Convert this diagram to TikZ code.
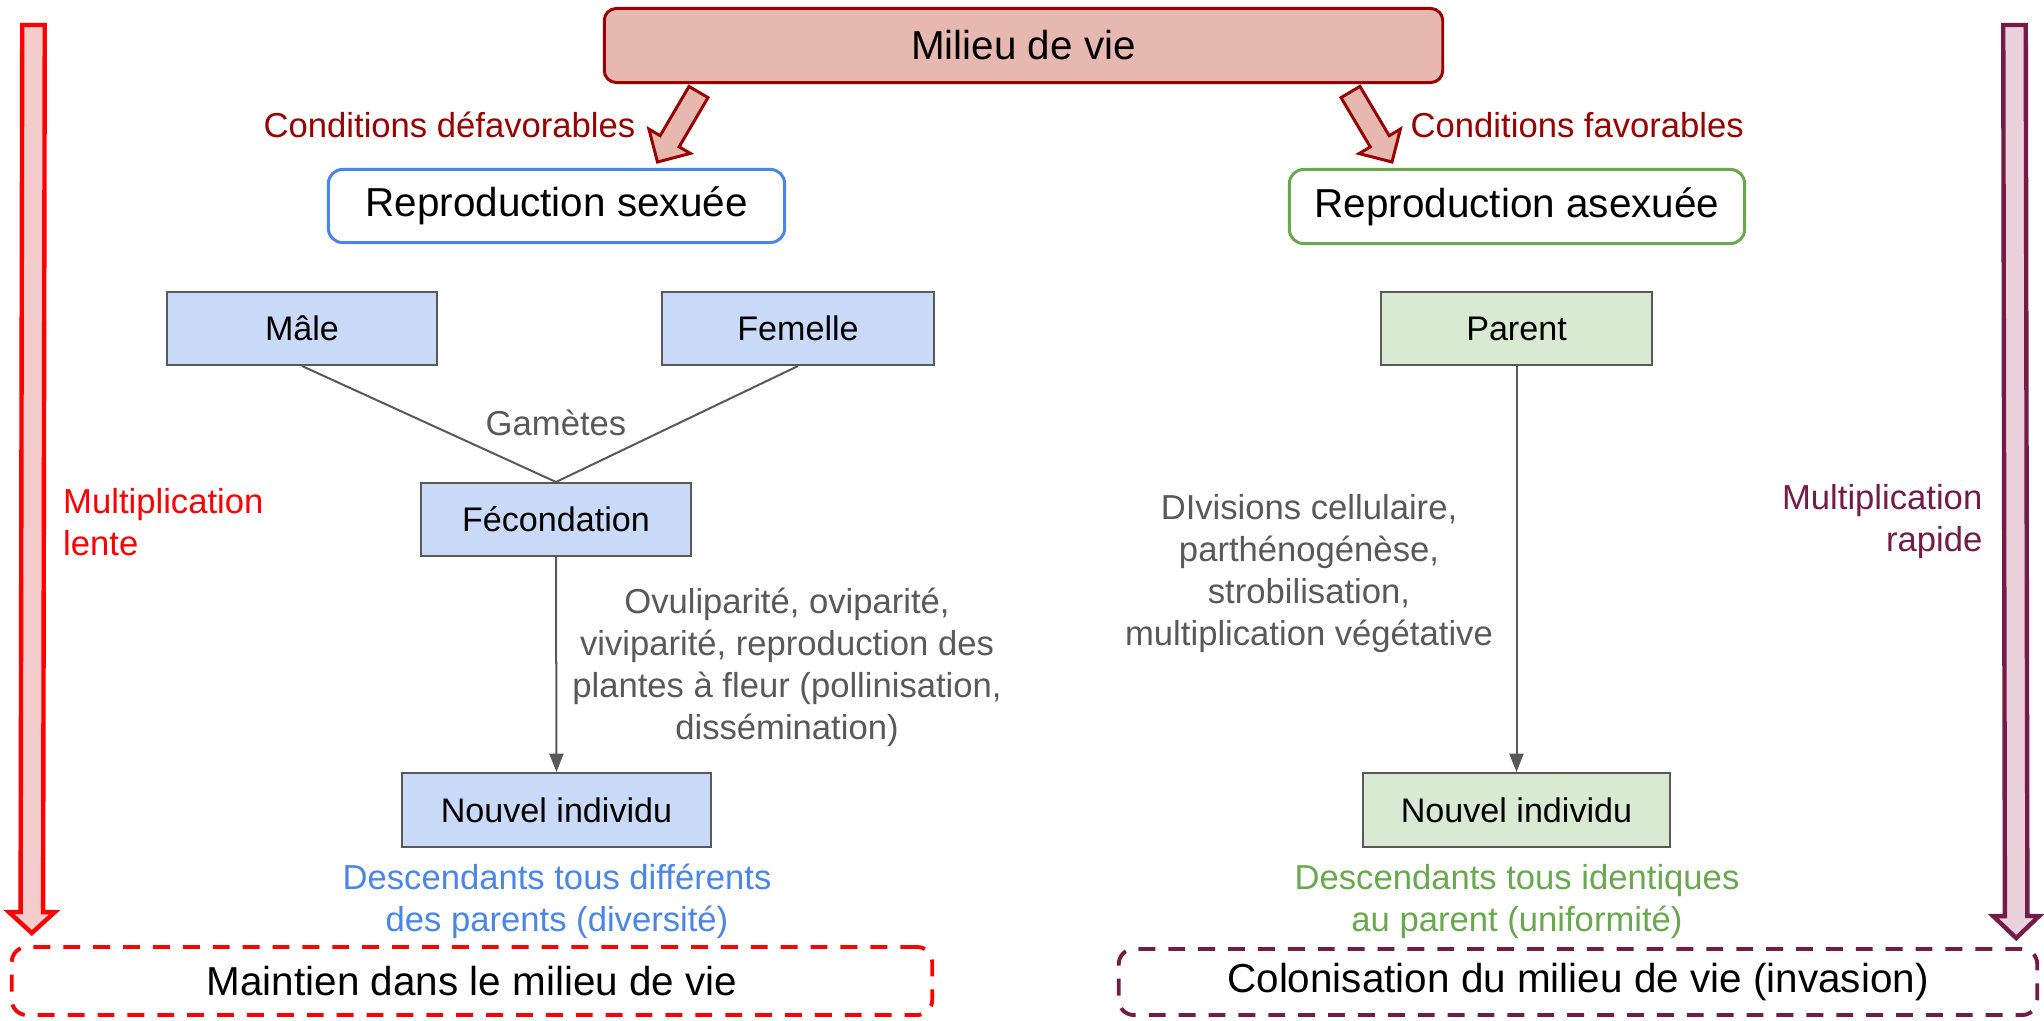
\documentclass[tikz,border=0pt]{standalone}
\usepackage{fontspec}
\setmainfont{Liberation Sans}
\usepackage{tikz}
\usetikzlibrary{arrows.meta, calc, positioning}

\definecolor{rougeFonce}{HTML}{990000}
\definecolor{rougeClair}{HTML}{E6B8AF}
\definecolor{bleuCadre}{HTML}{4A86E8}
\definecolor{vertCadre}{HTML}{6AA84F}
\definecolor{bleuBoite}{HTML}{C9DAF8}
\definecolor{vertBoite}{HTML}{D9EAD3}
\definecolor{grisFonce}{HTML}{595959}
\definecolor{rougeVif}{HTML}{FF0000}
\definecolor{roseVif}{HTML}{F4CCCC}
\definecolor{prune}{HTML}{741B47}
\definecolor{pruneClair}{HTML}{EAD1DC}

\begin{document}
\begin{tikzpicture}[x=0.01cm, y=-0.01cm,
    grand/.style={font=\fontsize{11.5}{13.8}\selectfont},
    petit/.style={font=\fontsize{9.85}{11.95}\selectfont},
    cadre/.style={draw, rounded corners=4pt, line width=0.85pt, fill=white, inner sep=0pt, grand},
    etape/.style={draw=grisFonce, line width=0.57pt, inner sep=0pt, minimum height=0.73cm, font=\fontsize{9.7}{11.6}\selectfont},
    lien/.style={draw=grisFonce, line width=0.57pt},
    fleche/.style={lien, -{Triangle[length=5.2pt, width=4pt]}},
    legende/.style={petit, text=grisFonce, align=center, inner sep=0pt},
    bilan/.style={draw, dash pattern=on 4.8pt off 3.7pt, line width=1.1pt, rounded corners=4.3pt, inner sep=0pt, grand},
    bloc/.style={line width=0.85pt, line join=miter, draw=rougeFonce, fill=rougeClair},
]
    % Cadre de la figure
    \useasboundingbox (0,0) rectangle (2044,1021);

    % Fleche epaisse : style, queue, pointe, demi-largeur tige, demi-largeur tete, longueur tete
    \def\flecheBloc#1#2#3#4#5#6{%
        \coordinate (fbBase) at ($(#3)!#6!(#2)$);
        \draw[#1] ($(#2)!#4!90:(#3)$) -- ($(fbBase)!#4!-90:(#2)$) -- ($(fbBase)!#5!-90:(#2)$) -- (#3)
            -- ($(fbBase)!#5!90:(#2)$) -- ($(fbBase)!#4!90:(#2)$) -- ($(#2)!#4!-90:(#3)$) -- cycle;
    }

    % Milieu de vie
    \node[cadre, draw=rougeFonce, fill=rougeClair, rounded corners=3.4pt, minimum width=8.38cm, minimum height=0.74cm] (milieu) at (1023.5,45.5) {Milieu de vie};

    % Les deux modes de reproduction
    \node[cadre, draw=bleuCadre, minimum width=4.56cm, minimum height=0.73cm] (sexuee) at (556.5,206) {Reproduction sexuée};
    \node[cadre, draw=vertCadre, minimum width=4.55cm, minimum height=0.74cm] (asexuee) at (1517,206.5) {Reproduction asexuée};

    % Conditions
    \coordinate (qDef) at ($(milieu.south)+(-325,8)$);
    \coordinate (pDef) at ($(sexuee.north)+(101,-6)$);
    \coordinate (qFav) at ($(milieu.south)+(327,8)$);
    \coordinate (pFav) at ($(asexuee.north)+(-125,-6)$);
    \flecheBloc{bloc}{qDef}{pDef}{0.11cm}{0.24cm}{0.24cm}
    \flecheBloc{bloc}{qFav}{pFav}{0.11cm}{0.24cm}{0.24cm}
    \node[petit, text=rougeFonce, anchor=base east, inner sep=0pt] (defavorables) at (636,137) {Conditions défavorables};
    \node[petit, text=rougeFonce, anchor=base west, inner sep=0pt] (favorables) at (1410,137) {Conditions favorables};

    % Reproduction sexuee
    \node[etape, fill=bleuBoite, minimum width=2.70cm] (male) at (302,328.5) {Mâle};
    \node[etape, fill=bleuBoite, minimum width=2.72cm] (femelle) at (798,328.5) {Femelle};
    \node[etape, fill=bleuBoite, minimum width=2.70cm] (fecondation) at (556,519.5) {Fécondation};
    \node[etape, fill=bleuBoite, minimum width=3.09cm, minimum height=0.74cm] (nouvelG) at (556.5,810) {Nouvel individu};
    \draw[lien] (male.south) -- (fecondation.north);
    \draw[lien] (femelle.south) -- (fecondation.north);
    \draw[fleche] (fecondation.south) -- (nouvelG.north);
    \node[petit, text=grisFonce, anchor=base, inner sep=0pt] (gametes) at (556,435) {Gamètes};
    \node[legende] (developpement) at (787,667) {Ovuliparité, oviparité,\\viviparité, reproduction des\\plantes à fleur (pollinisation,\\dissémination)};
    \node[petit, text=bleuCadre, align=center, inner sep=0pt] (diversite) at (557,901.5) {Descendants tous différents\\des parents (diversité)};

    % Reproduction asexuee
    \node[etape, fill=vertBoite, minimum width=2.71cm] (parent) at (1516.5,328.5) {Parent};
    \node[etape, fill=vertBoite, minimum width=3.07cm, minimum height=0.74cm] (nouvelD) at (1516.5,810) {Nouvel individu};
    \draw[fleche] (parent.south) -- (nouvelD.north);
    \node[legende] (divisions) at (1309,574) {DIvisions cellulaire,\\parthénogénèse,\\strobilisation,\\multiplication végétative};
    \node[petit, text=vertCadre, align=center, inner sep=0pt] (uniformite) at (1517,901.5) {Descendants tous identiques\\au parent (uniformité)};

    % Bilans
    \node[bilan, draw=rougeVif, minimum width=9.20cm, minimum height=0.68cm] (maintien) at (472,981) {Maintien dans le milieu de vie};
    \node[bilan, draw=prune, minimum width=9.18cm, minimum height=0.66cm] (colonisation) at (1578,982) {Colonisation du milieu de vie (invasion)};

    % Vitesse de multiplication
    \coordinate (qLente) at (33.5,25);
    \coordinate (pLente) at ($(maintien.north west)+(22,-12)$);
    \coordinate (qRapide) at (2014.5,25);
    \coordinate (pRapide) at ($(colonisation.north east)+(-23,-9)$);
    \flecheBloc{bloc, line width=1.25pt, draw=rougeVif, fill=roseVif}{qLente}{pLente}{0.1125cm}{0.23cm}{0.21cm}
    \flecheBloc{bloc, line width=1.25pt, draw=prune, fill=pruneClair}{qRapide}{pRapide}{0.1125cm}{0.23cm}{0.22cm}
    \node[petit, text=rougeVif, align=left, anchor=west, inner sep=0pt] (lente) at (62.5,522) {Multiplication\\lente};
    \node[petit, text=prune, align=right, anchor=east, inner sep=0pt] (rapide) at (1983,522) {Multiplication\\rapide};
\end{tikzpicture}
\end{document}
